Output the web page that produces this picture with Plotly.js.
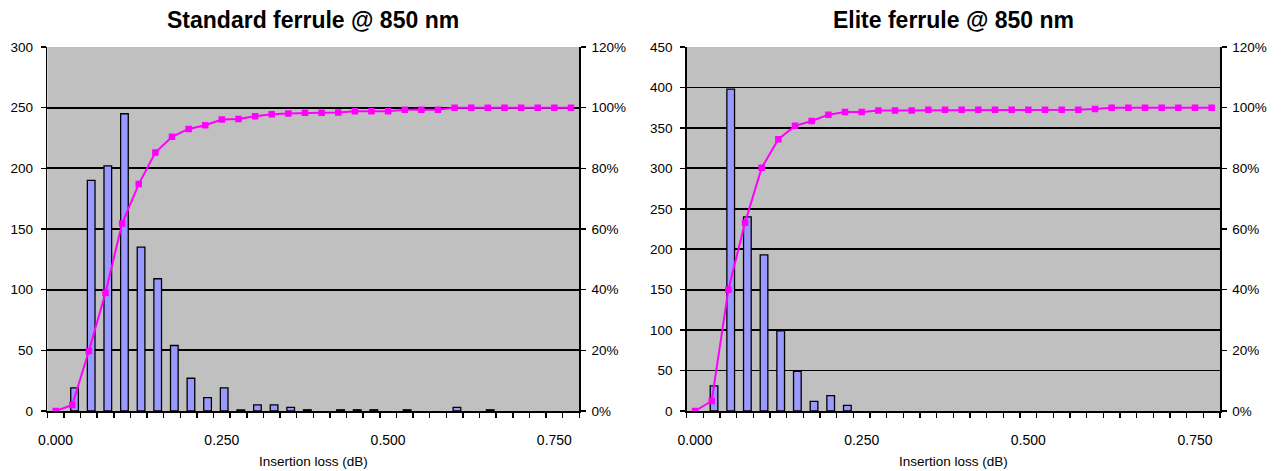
<!DOCTYPE html>
<html>
<head>
<meta charset="utf-8">
<script src="https://cdn.plot.ly/plotly-3.0.1.min.js"></script>
<style>html,body{margin:0;padding:0;background:#fff;}#chart{width:1282px;height:471px;}</style>
</head>
<body>
<div id="chart"></div>
<script>
// Insertion loss bins (dB)
const lossBins = [0.000,0.025,0.050,0.075,0.100,0.125,0.150,0.175,0.200,0.225,
                  0.250,0.275,0.300,0.325,0.350,0.375,0.400,0.425,0.450,0.475,
                  0.500,0.525,0.550,0.575,0.600,0.625,0.650,0.675,0.700,0.725,
                  0.750,0.775];
const xTickVals = [0, 0.25, 0.5, 0.75];
const xTickText = ['0.000', '0.250', '0.500', '0.750'];

// Standard ferrule @ 850 nm
const stdCounts = [0,19,190,202,245,135,109,54,27,11,
                   19,1,5,5,3,1,0,1,1,1,
                   0,1,0,0,3,0,1,0,0,0,
                   0,0];
const stdCumPct = [0,2,19.8,39.0,61.8,74.8,85.2,90.4,93.0,94.2,
                   96.1,96.3,97.2,97.8,98.1,98.3,98.3,98.4,98.8,98.8,
                   98.8,99.3,99.3,99.3,100,100,100,100,100,100,
                   100,100];

// Elite ferrule @ 850 nm
const eliteCounts = [0,31,398,240,193,99,49,12,19,7,
                     0,0,0,0,0,0,0,0,0,0,
                     0,0,0,0,0,0,0,0,0,0,
                     0,0];
const eliteCumPct = [0,3.3,40.0,62.1,80.2,89.6,94.0,95.6,97.7,98.6,
                     98.6,99.1,99.1,99.1,99.3,99.3,99.3,99.3,99.3,99.3,
                     99.3,99.3,99.3,99.3,99.6,100,100,100,100,100,
                     100,100];

const titles = ['Standard ferrule @ 850 nm', 'Elite ferrule @ 850 nm'];
const xTitle = 'Insertion loss (dB)';

const W = 1282;
const FONT = 'Liberation Sans, Arial, sans-serif';
const barColor = '#9999ff';
const lineColor = '#ff00ff';
const barW = 0.0115;

function barTrace(y, xa, ya) {
  // empty bins are left undrawn, as in the original chart
  return {type: 'bar', x: lossBins, y: y.map(v => (v === 0 ? null : v)), xaxis: xa, yaxis: ya,
    width: barW, offset: -barW / 2 + 0.0035,
    marker: {color: barColor, line: {color: '#000', width: 1.3}},
    hoverinfo: 'x+y', showlegend: false};
}
function lineTrace(y, xa, ya) {
  return {type: 'scatter', mode: 'lines+markers', x: lossBins, y: y, xaxis: xa, yaxis: ya,
    line: {color: lineColor, width: 2},
    marker: {symbol: 'square', size: 6.5, color: lineColor},
    hoverinfo: 'x+y', showlegend: false};
}

const data = [
  barTrace(stdCounts, 'x', 'y'),
  lineTrace(stdCumPct, 'x', 'y2'),
  barTrace(eliteCounts, 'x2', 'y3'),
  lineTrace(eliteCumPct, 'x2', 'y4')
];

const xRange = [-0.0125, 0.7875];
function mainX(domain, anchor) {
  return {domain: domain, anchor: anchor, range: xRange, fixedrange: true,
    tickmode: 'array', tickvals: xTickVals, ticktext: xTickText, ticks: '',
    ticklabelstandoff: 16,
    minor: {tickmode: 'linear', tick0: -0.0125, dtick: 0.025, ticks: 'outside',
            ticklen: 5, tickwidth: 1.5, tickcolor: '#000', showgrid: false},
    showline: true, linecolor: '#000', linewidth: 1.5, showgrid: false, zeroline: false,
    tickfont: {family: FONT, size: 14, color: '#000'},
    title: {text: xTitle, font: {family: FONT, size: 13.5, color: '#000'}, standoff: 9},
    automargin: false};
}
function overlayX(over, anchor) {
  return {overlaying: over, anchor: anchor, range: xRange, fixedrange: true,
    tickmode: 'linear', tick0: -0.0125, dtick: 0.025, ticks: 'inside', ticklen: 4,
    tickwidth: 1.5, tickcolor: '#000', showticklabels: false, showline: false,
    showgrid: false, zeroline: false, automargin: false};
}
function leftY(anchor, max) {
  return {anchor: anchor, range: [0, max], dtick: 50, tick0: 0, fixedrange: true,
    ticks: 'outside', ticklen: 5, tickwidth: 1.5, tickcolor: '#000',
    showline: true, linecolor: '#000', linewidth: 1.5,
    showgrid: true, gridcolor: '#000', gridwidth: 1.7, zeroline: false,
    tickfont: {family: FONT, size: 13.5, color: '#000'}, ticklabelstandoff: 5, automargin: false};
}
function rightY(over, anchor) {
  return {overlaying: over, anchor: anchor, side: 'right', range: [0, 120], dtick: 20, tick0: 0,
    ticksuffix: '%', fixedrange: true,
    ticks: 'outside', ticklen: 5, tickwidth: 1.5, tickcolor: '#000',
    showline: true, linecolor: '#000', linewidth: 1.5,
    showgrid: false, zeroline: false,
    tickfont: {family: FONT, size: 13.5, color: '#000'}, ticklabelstandoff: 3, automargin: false};
}

const dom1 = [47.3 / W, 579.3 / W];
const dom2 = [686.7 / W, 1220 / W];

const layout = {
  width: 1282, height: 471,
  margin: {l: 0, r: 0, t: 47, b: 60, pad: 0},
  paper_bgcolor: '#ffffff', plot_bgcolor: '#c0c0c0',
  font: {family: FONT, color: '#000'},
  bargap: 0,
  xaxis: mainX(dom1, 'y'),
  xaxis2: mainX(dom2, 'y3'),
  xaxis3: overlayX('x', 'y'),
  xaxis4: overlayX('x2', 'y3'),
  yaxis: leftY('x', 300),
  yaxis2: rightY('y', 'x'),
  yaxis3: leftY('x2', 450),
  yaxis4: rightY('y3', 'x2'),
  annotations: [
    {text: '<b>' + titles[0] + '</b>', xref: 'paper', yref: 'paper', x: (dom1[0] + dom1[1]) / 2, y: 1,
     yshift: 27, xanchor: 'center', yanchor: 'middle', showarrow: false,
     font: {family: FONT, size: 23, color: '#000'}},
    {text: '<b>' + titles[1] + '</b>', xref: 'paper', yref: 'paper', x: (dom2[0] + dom2[1]) / 2, y: 1,
     yshift: 27, xanchor: 'center', yanchor: 'middle', showarrow: false,
     font: {family: FONT, size: 23, color: '#000'}}
  ]
};

Plotly.newPlot('chart', data, layout, {displayModeBar: false, staticPlot: true});
</script>
</body>
</html>
